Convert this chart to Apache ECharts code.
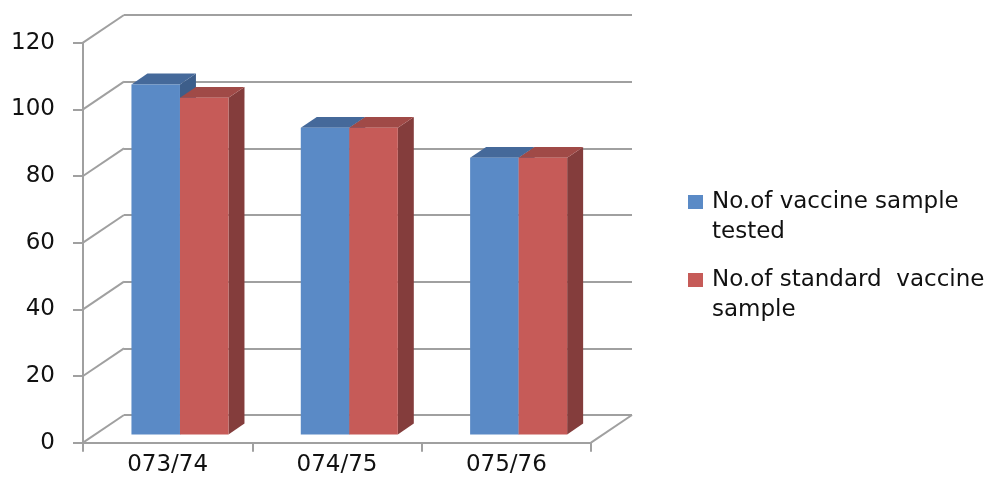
<!DOCTYPE html>
<html><head><meta charset="utf-8">
<script src="https://cdn.jsdelivr.net/npm/echarts@6/dist/echarts.min.js"></script>
<style>html,body{margin:0;padding:0;background:#fff}#c{width:995px;height:494px}</style>
</head><body><div id="c"></div>
<script>
// ---- data ----
const categories = ['073/74', '074/75', '075/76'];
const seriesNames = ['No.of vaccine sample tested', 'No.of standard  vaccine sample'];
const testedValues = [105, 92, 83];
const standardValues = [101, 92, 83];
const yTicks = [0, 20, 40, 60, 80, 100, 120];

// ---- 3D projection / style constants ----
const DEPTH = { dx: 41, dy: -27.7 };
const BAR_FRONT = 0.3, BAR_DEPTH = 0.39, BAR_RATIO = 0.2865;
const FRONT = { left: 83, top: 42.7, width: 508, height: 400 };
const FONT = 'DejaVu Sans';
const FS = 23;
const LINE = '#A0A0A0';
const palettes = [
  { front: '#5A8AC6', top: '#45699A', side: '#3D5E8A' },
  { front: '#C65B58', top: '#A04A47', side: '#843D3C' }
];

function barRenderer(si) {
  const pal = palettes[si];
  return function (params, api) {
    const idx = api.value(0), v = api.value(1);
    const base = api.coord([idx, 0]);
    const tp = api.coord([idx, v]);
    const w = api.size([1, 0])[0] * BAR_RATIO;
    const sx = DEPTH.dx * BAR_FRONT, sy = DEPTH.dy * BAR_FRONT;
    const ddx = DEPTH.dx * BAR_DEPTH, ddy = DEPTH.dy * BAR_DEPTH;
    const x0 = base[0] - w + si * w + sx, x1 = x0 + w;
    const yb = base[1] + sy, yt = tp[1] + sy;
    return { type: 'group', children: [
      { type: 'polygon', shape: { points: [[x1, yt], [x1 + ddx, yt + ddy], [x1 + ddx, yb + ddy], [x1, yb]] }, style: { fill: pal.side } },
      { type: 'polygon', shape: { points: [[x0, yt], [x0 + ddx, yt + ddy], [x1 + ddx, yt + ddy], [x1, yt]] }, style: { fill: pal.top } },
      { type: 'rect', shape: { x: x0, y: yt, width: w, height: yb - yt }, style: { fill: pal.front } }
    ] };
  };
}

function wallRenderer(params, api) {
  const cs = params.coordSys;
  const v = api.value(1);
  const y = api.coord([0, v])[1];
  const ls = { stroke: LINE, lineWidth: 2 };
  const ch = [{ type: 'line', shape: { x1: cs.x, y1: y, x2: cs.x + DEPTH.dx, y2: y + DEPTH.dy }, style: ls }];
  if (v === yTicks[0]) {
    ch.push({ type: 'line', shape: { x1: cs.x + cs.width, y1: y, x2: cs.x + cs.width + DEPTH.dx, y2: y + DEPTH.dy }, style: ls });
  }
  return { type: 'group', children: ch };
}

const chart = echarts.init(document.getElementById('c'));
chart.setOption({
  animation: false,
  grid: [
    { left: FRONT.left, top: FRONT.top, width: FRONT.width, height: FRONT.height, outerBoundsMode: 'none' },
    { left: FRONT.left + DEPTH.dx, top: FRONT.top + DEPTH.dy, width: FRONT.width, height: FRONT.height, outerBoundsMode: 'none' }
  ],
  xAxis: [
    { type: 'category', gridIndex: 0, data: categories,
      axisLine: { show: true, lineStyle: { color: LINE, width: 2 } },
      axisTick: { show: true, length: 9, lineStyle: { color: LINE, width: 2 } },
      axisLabel: { fontFamily: FONT, fontSize: FS, color: '#111', margin: 11 },
      splitLine: { show: false } },
    { type: 'category', gridIndex: 1, data: categories, show: false }
  ],
  yAxis: [
    { type: 'value', gridIndex: 0, min: 0, max: 120, interval: 20,
      axisLine: { show: true, lineStyle: { color: LINE, width: 2 } },
      axisTick: { show: true, inside: false, length: 10, lineStyle: { color: LINE, width: 2 } },
      axisLabel: { fontFamily: FONT, fontSize: FS, color: '#111', margin: 28 },
      splitLine: { show: false } },
    { type: 'value', gridIndex: 1, min: 0, max: 120, interval: 20,
      axisLine: { show: false }, axisTick: { show: false }, axisLabel: { show: false },
      splitLine: { show: true, lineStyle: { color: LINE, width: 2 } } }
  ],
  legend: {
    data: seriesNames, orient: 'vertical', left: 683, top: 152,
    itemWidth: 15, itemHeight: 14, itemGap: -12, icon: 'rect',
    formatter: name => '\n' + name.replace(/ (\S+)$/, '\n$1'),
    textStyle: { fontFamily: FONT, fontSize: FS, color: '#111', lineHeight: 30,
      padding: [0, 0, 0, 4] }
  },
  series: [
    { type: 'custom', name: 'wall', xAxisIndex: 0, yAxisIndex: 0, z: 1, silent: true,
      renderItem: wallRenderer, data: yTicks.map(v => [0, v]) },
    { type: 'custom', name: seriesNames[0], xAxisIndex: 0, yAxisIndex: 0, z: 2,
      itemStyle: { color: palettes[0].front },
      renderItem: barRenderer(0), data: testedValues.map((v, i) => [i, v]) },
    { type: 'custom', name: seriesNames[1], xAxisIndex: 0, yAxisIndex: 0, z: 3,
      itemStyle: { color: palettes[1].front },
      renderItem: barRenderer(1), data: standardValues.map((v, i) => [i, v]) }
  ]
});
</script></body></html>
